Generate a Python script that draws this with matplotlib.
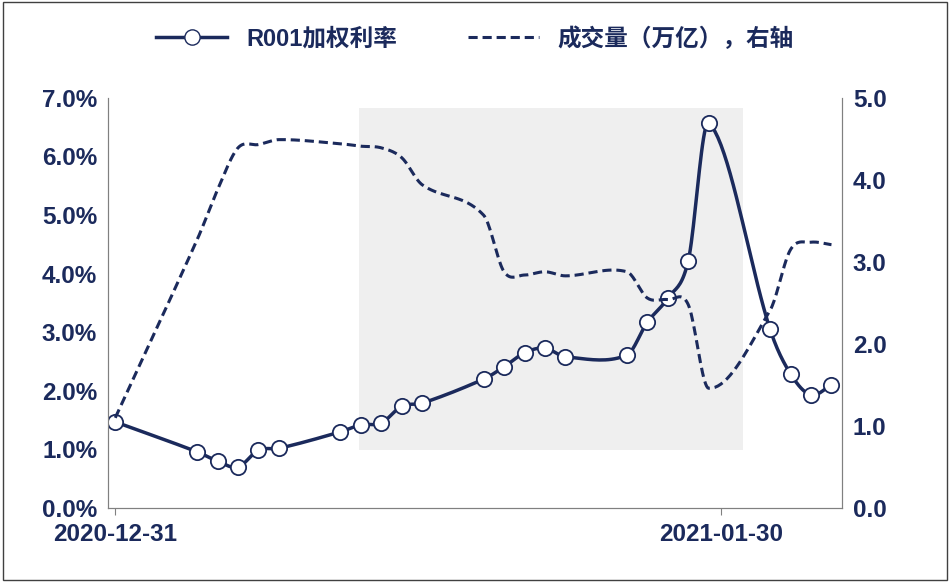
import matplotlib
matplotlib.use("Agg")
import matplotlib.pyplot as plt
import numpy as np
from matplotlib.patches import Rectangle

plt.rcParams['font.family'] = ['Liberation Sans', 'Noto Sans CJK SC', 'DejaVu Sans']

days = [0, 4, 5, 6, 7, 8, 11, 12, 13, 14, 15, 18, 19, 20, 21, 22, 25, 26, 27, 28, 29, 32, 33, 34, 35]
rate = [1.47, 0.96, 0.80, 0.70, 0.99, 1.02, 1.30, 1.42, 1.45, 1.74, 1.79, 2.20, 2.41, 2.65, 2.73, 2.58,
        2.61, 3.17, 3.58, 4.22, 6.57, 3.05, 2.29, 1.93, 2.10]
volume = [1.10, 3.27, 3.88, 4.39, 4.43, 4.49, 4.44, 4.41, 4.39, 4.27, 3.94, 3.57, 2.88, 2.84, 2.88, 2.83,
          2.88, 2.56, 2.54, 2.48, 1.46, 2.41, 3.15, 3.24, 3.21]
tick_labels = ['2020-12-31', '2021-01-30']
tick_days = [0, 29.6]
shade_days = (11.9, 30.7)
shade_rate = (0.99, 6.83)

navy = '#1B2A5C'

def smooth(x, y, n=20):
    x = np.asarray(x, float); y = np.asarray(y, float)
    xs, ys = [], []
    m = np.zeros(len(x))
    for i in range(len(x)):
        if i == 0:
            m[i] = (y[1]-y[0])/(x[1]-x[0])
        elif i == len(x)-1:
            m[i] = (y[-1]-y[-2])/(x[-1]-x[-2])
        else:
            m[i] = (y[i+1]-y[i-1])/(x[i+1]-x[i-1])
    for i in range(len(x)-1):
        h = x[i+1]-x[i]
        t = np.linspace(0, 1, n, endpoint=False)
        h00 = 2*t**3-3*t**2+1; h10 = t**3-2*t**2+t; h01 = -2*t**3+3*t**2; h11 = t**3-t**2
        xs.append(x[i]+t*h)
        ys.append(h00*y[i]+h10*h*m[i]+h01*y[i+1]+h11*h*m[i+1])
    xs.append([x[-1]]); ys.append([y[-1]])
    return np.concatenate(xs), np.concatenate(ys)

fig = plt.figure(figsize=(9.5, 5.82), dpi=100)
ax = fig.add_axes([0.114, 0.127, 0.772, 0.705])
ax2 = ax.twinx()

ax.add_patch(Rectangle((shade_days[0], shade_rate[0]), shade_days[1]-shade_days[0],
                       shade_rate[1]-shade_rate[0], facecolor='#EFEFEF', edgecolor='none', zorder=0))

sx, sy = smooth(days, rate)
ax.plot(sx, sy, color=navy, lw=2.5, zorder=3)
ax.plot(days, rate, 'o', ms=11, mfc='white', mec=navy, mew=1.3, zorder=4)
vx, vy = smooth(days, volume)
ax2.plot(vx, vy, color=navy, lw=2.2, ls=(0, (3, 1.6)))

ax.set_xlim(-0.34, 35.5)
ax.set_ylim(0, 7)
ax2.set_ylim(0, 5)
ax.set_yticks(range(8))
ax.set_yticklabels([f'{v}.0%' for v in range(8)])
ax2.set_yticks(range(6))
ax2.set_yticklabels([f'{v}.0' for v in range(6)])
ax.set_xticks(tick_days)
ax.set_xticklabels(tick_labels)
for a in (ax, ax2):
    a.tick_params(labelsize=17.5, colors=navy, length=0, pad=8)
    for lab in a.get_xticklabels() + a.get_yticklabels():
        lab.set_fontweight('bold')
    a.spines['top'].set_visible(False)
    for s in ('left', 'right', 'bottom'):
        a.spines[s].set_color('#808080')
ax.tick_params(axis='x', length=5, colors='#808080', labelcolor=navy, direction='out', pad=6)

from matplotlib.lines import Line2D
h1 = Line2D([], [], color=navy, lw=2.5, marker='o', ms=11, mfc='white', mec=navy)
h2 = Line2D([], [], color=navy, lw=2.2, ls=(0, (3, 1.6)))
leg = fig.legend([h1, h2], ['R001加权利率', '成交量（万亿），右轴'], loc='upper center',
                 bbox_to_anchor=(0.5, 0.99), ncol=2, frameon=False, handlelength=3,
                 columnspacing=3, prop={'size': 17, 'weight': 'bold'})
for t in leg.get_texts():
    t.set_color(navy)

fig.patches.append(Rectangle((0.003, 0.004), 0.994, 0.992, transform=fig.transFigure,
                             fill=False, edgecolor='#404040', lw=1))
fig.savefig('out.png', dpi=100)
